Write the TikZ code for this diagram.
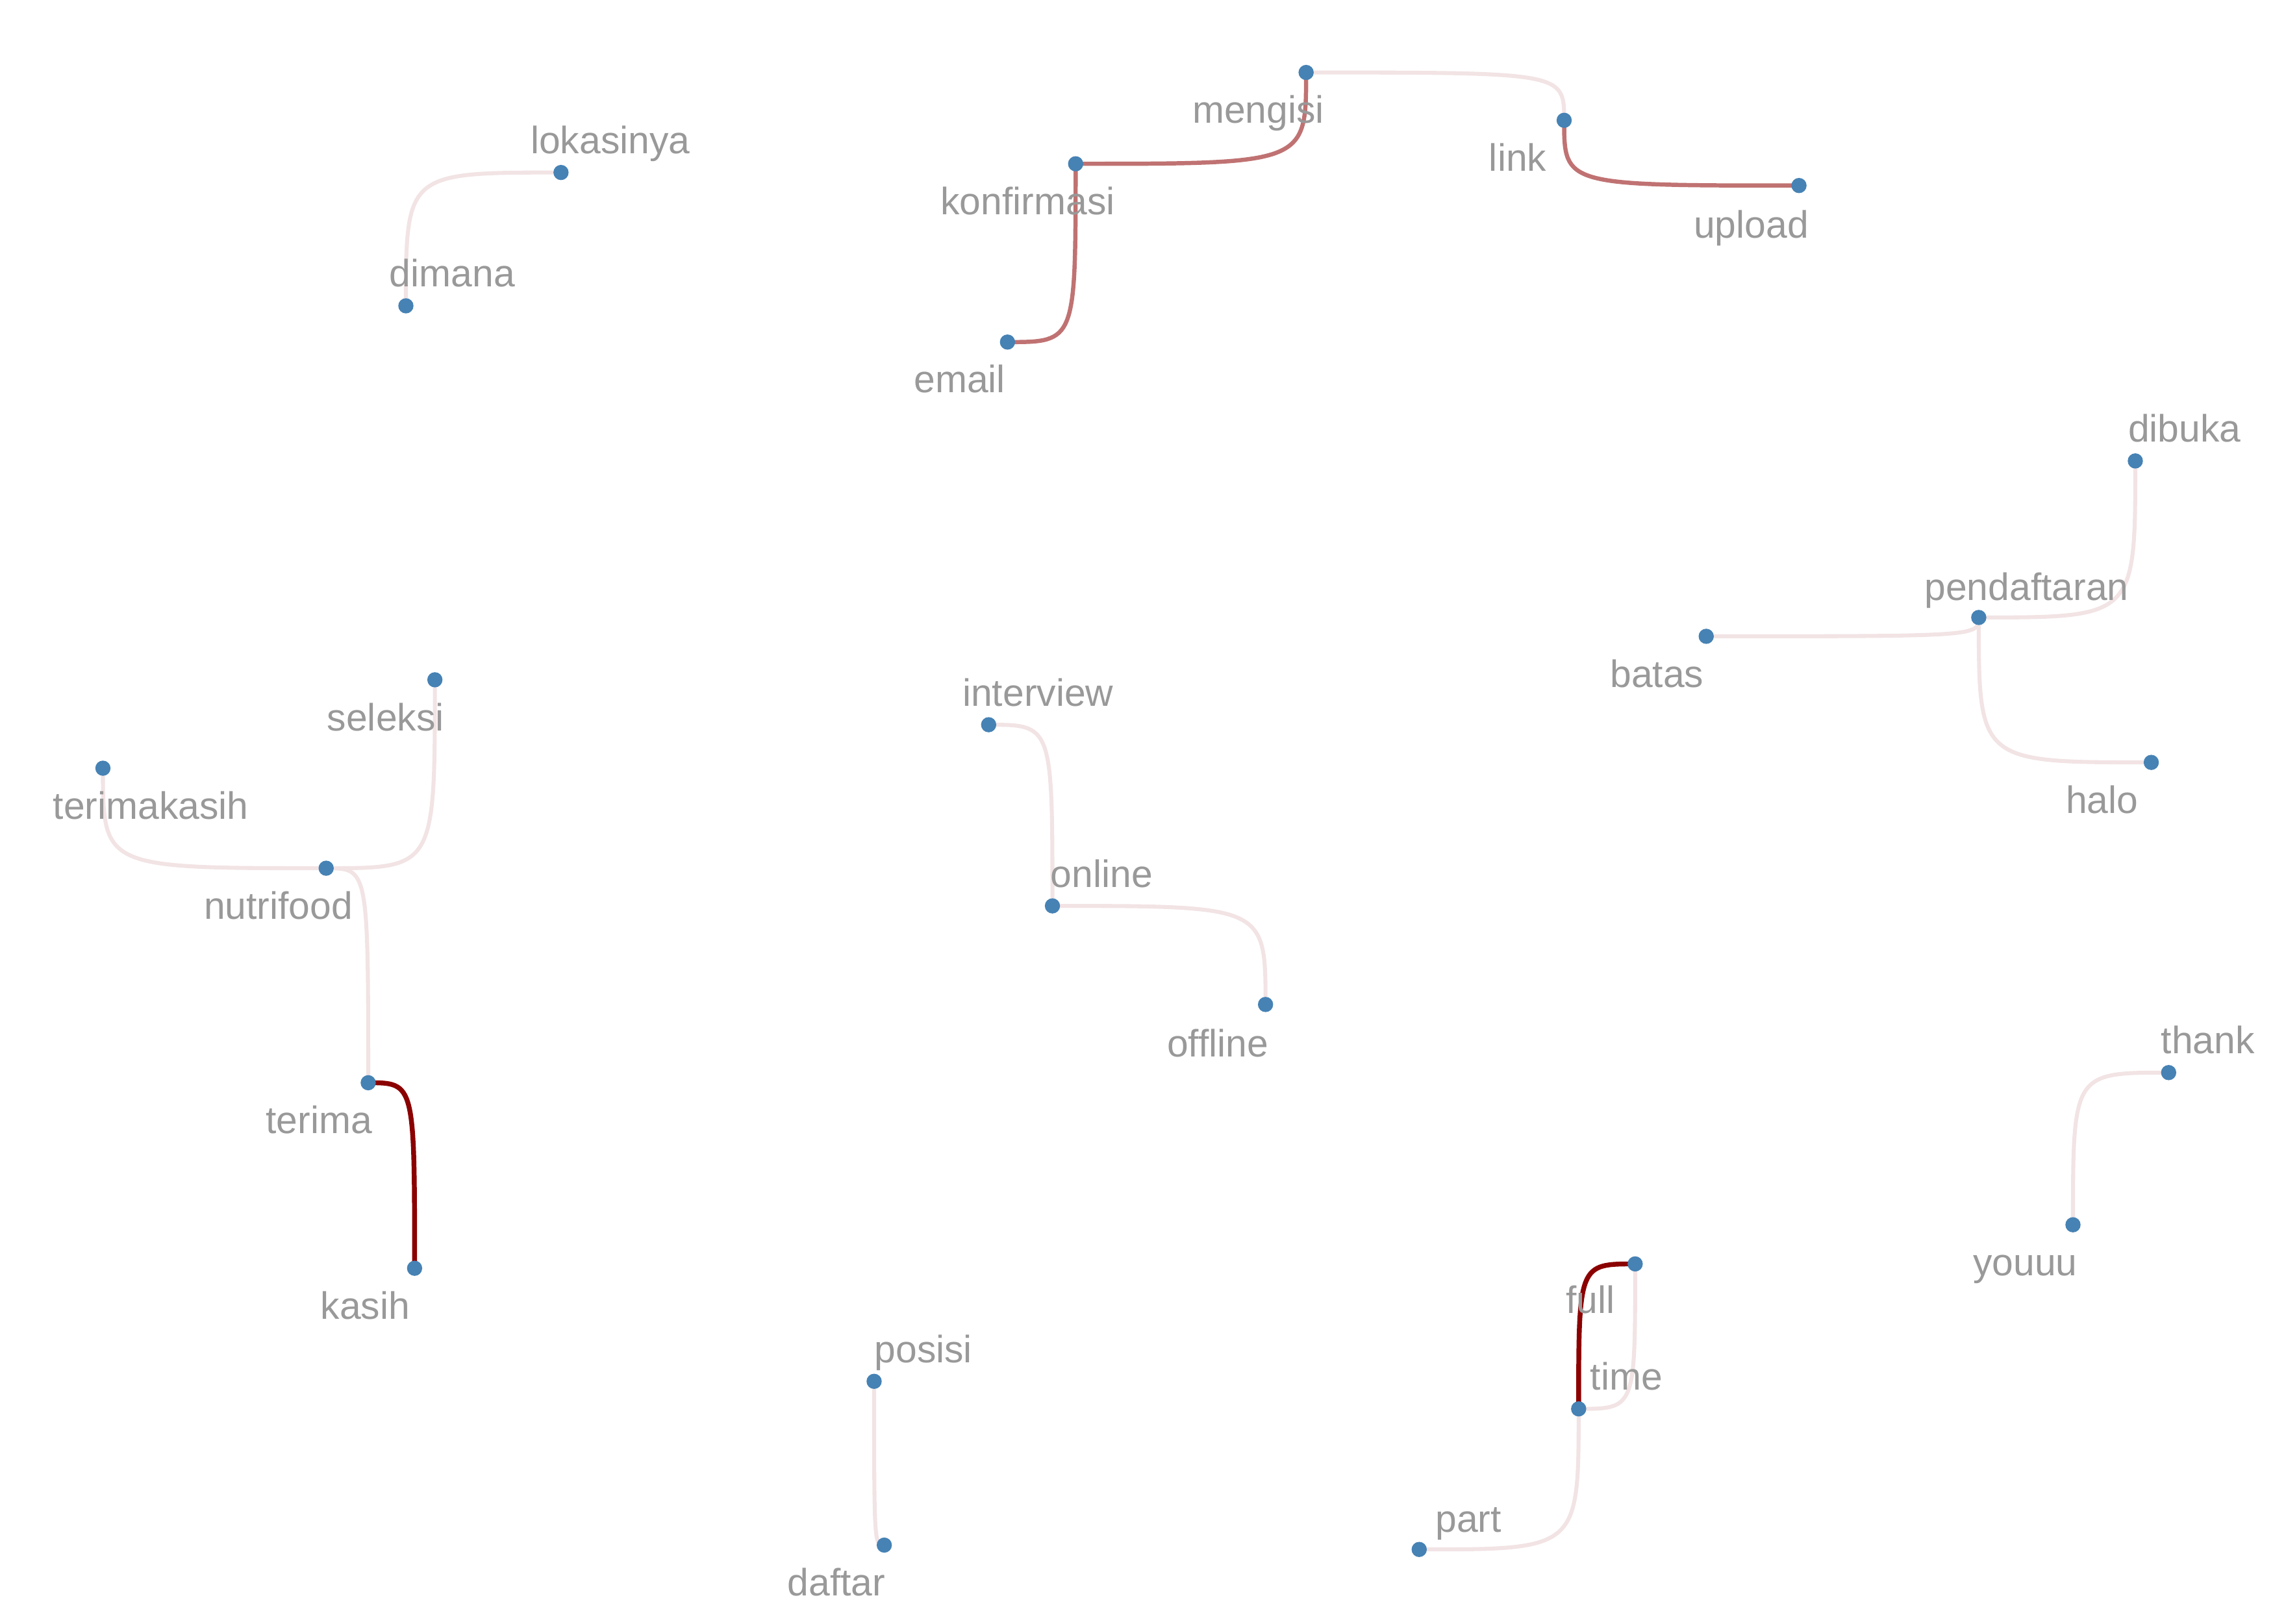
\documentclass[tikz,border=0pt]{standalone}
\usepackage{fontspec}
\setmainfont{Liberation Sans}
\pgfdeclarelayer{bg}
\pgfsetlayers{bg,main}
\definecolor{dotblue}{HTML}{4682B4}
\definecolor{lblgray}{HTML}{999999}
\definecolor{clight}{HTML}{F2E3E4}
\definecolor{cmid}{HTML}{C07272}
\definecolor{cdark}{HTML}{8B0000}
\begin{document}
\begin{tikzpicture}[x=0.02cm,y=-0.02cm,
  dot/.style={circle,fill=dotblue,inner sep=0pt,minimum size=0.21cm},
  lab/.style={text=lblgray,font=\fontsize{15}{18}\selectfont,inner sep=0pt,anchor=base},
  lightedge/.style={draw=clight,line width=1.55pt},
  midedge/.style={draw=cmid,line width=1.65pt},
  darkedge/.style={draw=cdark,line width=1.9pt}]
\useasboundingbox (0,0) rectangle (1568,1120);
% nodes
\node[dot] (mengisi) at (901,50) {};
\node[dot] (link) at (1079,83) {};
\node[dot] (upload) at (1241,128) {};
\node[dot] (konfirmasi) at (742,113) {};
\node[dot] (email) at (695,236) {};
\node[dot] (lokasinya) at (387,119) {};
\node[dot] (dimana) at (280,211) {};
\node[dot] (dibuka) at (1473,318) {};
\node[dot] (pendaftaran) at (1365,426) {};
\node[dot] (batas) at (1177,439) {};
\node[dot] (halo) at (1484,526) {};
\node[dot] (interview) at (682,500) {};
\node[dot] (online) at (726,625) {};
\node[dot] (offline) at (873,693) {};
\node[dot] (seleksi) at (300,469) {};
\node[dot] (terimakasih) at (71,530) {};
\node[dot] (nutrifood) at (225,599) {};
\node[dot] (terima) at (254,747) {};
\node[dot] (kasih) at (286,875) {};
\node[dot] (thank) at (1496,740) {};
\node[dot] (youuu) at (1430,845) {};
\node[dot] (full) at (1128,872) {};
\node[dot] (time) at (1089,972) {};
\node[dot] (part) at (979,1069) {};
\node[dot] (posisi) at (603,953) {};
\node[dot] (daftar) at (610,1066) {};
% labels
\node[lab] (l-mengisi) at (868,85) {mengisi};
\node[lab] (l-link) at (1047,118) {link};
\node[lab] (l-upload) at (1208,164) {upload};
\node[lab] (l-konfirmasi) at (709,148) {konfirmasi};
\node[lab] (l-email) at (662,271) {email};
\node[lab] (l-lokasinya) at (421,106) {lokasinya};
\node[lab] (l-dimana) at (312,198) {dimana};
\node[lab] (l-dibuka) at (1507,305) {dibuka};
\node[lab] (l-pendaftaran) at (1398,414) {pendaftaran};
\node[lab] (l-batas) at (1143,474) {batas};
\node[lab] (l-halo) at (1450,561) {halo};
\node[lab] (l-interview) at (716,487) {interview};
\node[lab] (l-online) at (760,612) {online};
\node[lab] (l-offline) at (840,729) {offline};
\node[lab] (l-seleksi) at (266,504) {seleksi};
\node[lab] (l-terimakasih) at (104,565) {terimakasih};
\node[lab] (l-nutrifood) at (192,634) {nutrifood};
\node[lab] (l-terima) at (220,782) {terima};
\node[lab] (l-kasih) at (252,910) {kasih};
\node[lab] (l-thank) at (1523,727) {thank};
\node[lab] (l-youuu) at (1397,880) {youuu};
\node[lab] (l-full) at (1097,906) {full};
\node[lab] (l-time) at (1122,959) {time};
\node[lab] (l-part) at (1013,1057) {part};
\node[lab] (l-posisi) at (637,940) {posisi};
\node[lab] (l-daftar) at (577,1101) {daftar};
% edges: elbow curves, both control points at the corner
\begin{pgfonlayer}{bg}
\draw[lightedge] (mengisi.center) .. controls (mengisi.center -| link.center) .. (link.center);
\draw[lightedge] (dimana.center) .. controls (dimana.center |- lokasinya.center) .. (lokasinya.center);
\draw[lightedge] (pendaftaran.center) .. controls (pendaftaran.center -| dibuka.center) .. (dibuka.center);
\draw[lightedge] (batas.center) .. controls (batas.center -| pendaftaran.center) .. (pendaftaran.center);
\draw[lightedge] (pendaftaran.center) .. controls (pendaftaran.center |- halo.center) .. (halo.center);
\draw[lightedge] (interview.center) .. controls (interview.center -| online.center) .. (online.center);
\draw[lightedge] (online.center) .. controls (online.center -| offline.center) .. (offline.center);
\draw[lightedge] (nutrifood.center) .. controls (nutrifood.center -| seleksi.center) .. (seleksi.center);
\draw[lightedge] (terimakasih.center) .. controls (terimakasih.center |- nutrifood.center) .. (nutrifood.center);
\draw[lightedge] (nutrifood.center) .. controls (nutrifood.center -| terima.center) .. (terima.center);
\draw[lightedge] (youuu.center) .. controls (youuu.center |- thank.center) .. (thank.center);
\draw[lightedge] (time.center) .. controls (time.center -| full.center) .. (full.center);
\draw[lightedge] (part.center) .. controls (part.center -| time.center) .. (time.center);
\draw[lightedge] (posisi.center) .. controls (posisi.center |- daftar.center) .. (daftar.center);
\draw[midedge] (konfirmasi.center) .. controls (konfirmasi.center -| mengisi.center) .. (mengisi.center);
\draw[midedge] (email.center) .. controls (email.center -| konfirmasi.center) .. (konfirmasi.center);
\draw[midedge] (link.center) .. controls (link.center |- upload.center) .. (upload.center);
\draw[darkedge] (terima.center) .. controls (terima.center -| kasih.center) .. (kasih.center);
\draw[darkedge] (time.center) .. controls (time.center |- full.center) .. (full.center);
\end{pgfonlayer}
\end{tikzpicture}
\end{document}
